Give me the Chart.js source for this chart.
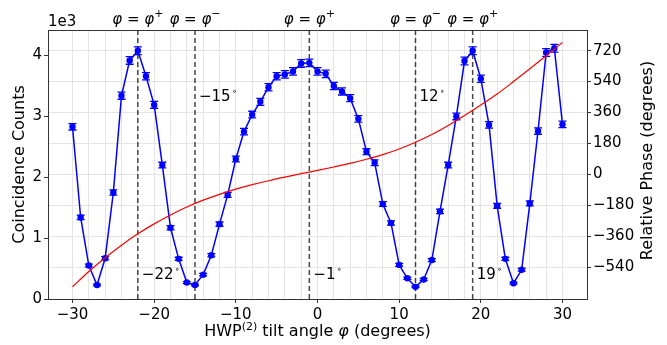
<!DOCTYPE html>
<html>
<head>
<meta charset="utf-8">
<script src="https://cdn.jsdelivr.net/npm/chart.js@4.4.0/dist/chart.umd.min.js"></script>
<style>
  html, body { margin: 0; padding: 0; background: #fff; }
  #wrap { width: 667px; height: 345px; }
</style>
</head>
<body>
<div id="wrap"><canvas id="phaseChart" width="667" height="345"></canvas></div>
<script>
// HWP(2) tilt angles (degrees), one measurement per degree
const angles = [-30, -29, -28, -27, -26, -25, -24, -23, -22, -21, -20, -19, -18, -17, -16, -15,
  -14, -13, -12, -11, -10, -9, -8, -7, -6, -5, -4, -3, -2, -1, 0, 1, 2, 3, 4, 5, 6, 7, 8, 9,
  10, 11, 12, 13, 14, 15, 16, 17, 18, 19, 20, 21, 22, 23, 24, 25, 26, 27, 28, 29, 30];

// coincidence counts
const counts = [2830, 1340, 550, 230, 670, 1750, 3340, 3920, 4080, 3660, 3190, 2200, 1170, 660, 270, 230,
  400, 720, 1230, 1710, 2300, 2750, 3030, 3240, 3480, 3660, 3690, 3740, 3870, 3880, 3740, 3700, 3500, 3410, 3300, 2960, 2420, 2240, 1560, 1250,
  560, 340, 200, 320, 640, 1440, 2200, 3000, 3910, 4080, 3620, 2860, 1530, 660, 260, 480, 1570, 2760, 4050, 4120, 2870];

// error bar half heights
const countErr = [53, 37, 23, 15, 26, 42, 58, 63, 64, 60, 56, 47, 34, 26, 16, 15,
  20, 27, 35, 41, 48, 52, 55, 57, 59, 60, 61, 61, 62, 62, 61, 61, 59, 58, 57, 54, 49, 47, 39, 35,
  24, 18, 14, 18, 25, 38, 47, 55, 63, 64, 60, 53, 39, 26, 16, 22, 40, 53, 64, 64, 54];

// relative phase curve (degrees)
const phaseAngles = [-30, -28, -26, -24, -22, -20, -18, -16, -14, -12, -10, -8, -6, -4, -2, 0,
  2, 4, 6, 8, 10, 12, 14, 16, 18, 20, 22, 24, 26, 28, 30];
const phaseValues = [-654, -565, -485, -412, -346, -288, -236, -190, -150, -116, -86, -60, -37, -16, 4, 23,
  43, 64, 88, 115, 148, 187, 232, 285, 343, 404, 468, 540, 614, 690, 768];

// special angles (dashed lines)
const markAngles = [-22, -15, -1, 12, 19];
const markSigns = ['+', '\u2212', '+', '\u2212', '+'];
const markText = ['\u221222', '\u221215', '\u22121', '12', '19'];

// tick labels
const xLabelTicks = [-30, -20, -10, 0, 10, 20, 30];
const countTicks = [0, 1000, 2000, 3000, 4000];
const phaseTicks = [-540, -360, -180, 0, 180, 360, 540, 720];

const FONT = '"DejaVu Sans", sans-serif';
const GRID = '#e4e4e4';
const AXIS = '#333';

function fmt(v) {
    return v < 0 ? '\u2212' + Math.abs(v) : String(v);
}

const xGrid = [];
for (let v = -30; v <= 30; v += 2) xGrid.push(v);

// where the in-plot degree labels sit (count axis units)
const labelHigh = 3330, labelLow = 410;

const errorBars = {
    id: 'errorBars',
    beforeDatasetsDraw(chart) {
        const ctx = chart.ctx, x = chart.scales.x, y = chart.scales.y;
        ctx.save();
        // dashed marker lines
        ctx.strokeStyle = 'rgba(0,0,0,0.72)';
        ctx.lineWidth = 1.5;
        ctx.setLineDash([5, 3]);
        markAngles.forEach(function(a) {
            const px = x.getPixelForValue(a);
            ctx.beginPath();
            ctx.moveTo(px, chart.chartArea.top);
            ctx.lineTo(px, chart.chartArea.bottom);
            ctx.stroke();
        });
        ctx.setLineDash([]);
        // error bars
        ctx.strokeStyle = 'blue';
        ctx.lineWidth = 1.3;
        angles.forEach(function(a, i) {
            const px = x.getPixelForValue(a);
            const top = y.getPixelForValue(counts[i] + countErr[i]);
            const bot = y.getPixelForValue(counts[i] - countErr[i]);
            ctx.beginPath();
            ctx.moveTo(px, top); ctx.lineTo(px, bot);
            ctx.moveTo(px - 4, top); ctx.lineTo(px + 4, top);
            ctx.moveTo(px - 4, bot); ctx.lineTo(px + 4, bot);
            ctx.stroke();
        });
        ctx.restore();
    }
};

const decorations = {
    id: 'decorations',
    afterDraw(chart) {
        const ctx = chart.ctx, area = chart.chartArea;
        const x = chart.scales.x, y = chart.scales.y;
        ctx.save();
        // top spine
        ctx.strokeStyle = AXIS;
        ctx.lineWidth = 1;
        ctx.beginPath();
        ctx.moveTo(area.left, area.top + 0.5);
        ctx.lineTo(area.right, area.top + 0.5);
        ctx.stroke();

        ctx.fillStyle = '#000';
        ctx.textBaseline = 'alphabetic';

        // phi = phi^+/- labels above the axes
        markAngles.forEach(function(a, i) {
            const px = x.getPixelForValue(a);
            ctx.font = 'italic 15px ' + FONT;
            const wPhi = ctx.measureText('\u03c6').width;
            ctx.font = '15px ' + FONT;
            const wEq = ctx.measureText(' = ').width;
            ctx.font = '11px ' + FONT;
            const wSup = ctx.measureText(markSigns[i]).width;
            let cx = px - (2 * wPhi + wEq + wSup) / 2;
            const base = 24;
            ctx.textAlign = 'left';
            ctx.font = 'italic 15px ' + FONT;
            ctx.fillText('\u03c6', cx, base); cx += wPhi;
            ctx.font = '15px ' + FONT;
            ctx.fillText(' = ', cx, base); cx += wEq;
            ctx.font = 'italic 15px ' + FONT;
            ctx.fillText('\u03c6', cx, base); cx += wPhi;
            ctx.font = '11px ' + FONT;
            ctx.fillText(markSigns[i], cx, base - 7);

            // degree label next to the line
            const high = (i === 1 || i === 3);
            const py = y.getPixelForValue(high ? labelHigh : labelLow) + 5;
            ctx.font = '15px ' + FONT;
            ctx.fillText(markText[i], px + 4, py);
            const w = ctx.measureText(markText[i]).width;
            ctx.font = '9px ' + FONT;
            ctx.fillText('\u2218', px + 4 + w + 1, py - 7);
        });

        // 1e3 offset text
        ctx.font = '15px ' + FONT;
        ctx.textAlign = 'left';
        ctx.fillText('1e3', area.left, 26);

        // x axis title with superscript
        const parts = [
            ['HWP', '16px ' + FONT, 0],
            ['(2)', '11px ' + FONT, -6],
            [' tilt angle ', '16px ' + FONT, 0],
            ['\u03c6', 'italic 16px ' + FONT, 0],
            [' (degrees)', '16px ' + FONT, 0]
        ];
        let total = 0;
        parts.forEach(function(p) { ctx.font = p[1]; total += ctx.measureText(p[0]).width; });
        let tx = (area.left + area.right) / 2 - total / 2;
        parts.forEach(function(p) {
            ctx.font = p[1];
            ctx.fillText(p[0], tx, 336 + p[2]);
            tx += ctx.measureText(p[0]).width;
        });

        // left and right axis titles
        ctx.font = '16px ' + FONT;
        ctx.textAlign = 'center';
        ctx.textBaseline = 'middle';
        ctx.save();
        ctx.translate(20, (area.top + area.bottom) / 2);
        ctx.rotate(-Math.PI / 2);
        ctx.fillText('Coincidence Counts', 0, 0);
        ctx.restore();
        ctx.save();
        ctx.translate(648, (area.top + area.bottom) / 2 - 4);
        ctx.rotate(-Math.PI / 2);
        ctx.fillText('Relative Phase (degrees)', 0, 0);
        ctx.restore();
        ctx.restore();
    }
};

document.addEventListener('DOMContentLoaded', function() {
    const ctx = document.getElementById('phaseChart').getContext('2d');
    const tickFont = { family: FONT, size: 15 };
    new Chart(ctx, {
        type: 'line',
        data: {
            datasets: [{
                label: 'Relative Phase',
                data: phaseAngles.map(function(a, i) { return { x: a, y: phaseValues[i] }; }),
                yAxisID: 'y2',
                borderColor: 'red',
                borderWidth: 1.2,
                pointRadius: 0,
                cubicInterpolationMode: 'monotone',
                fill: false,
                order: 0
            }, {
                label: 'Coincidence Counts',
                data: angles.map(function(a, i) { return { x: a, y: counts[i] }; }),
                yAxisID: 'y',
                borderColor: 'blue',
                backgroundColor: 'blue',
                borderWidth: 1.5,
                pointRadius: 3.2,
                pointBorderWidth: 0,
                tension: 0,
                fill: false,
                order: 1
            }]
        },
        options: {
            responsive: false,
            animation: false,
            devicePixelRatio: 1,
            layout: { padding: { top: 30, left: 0, right: 0, bottom: 0 } },
            plugins: {
                legend: { display: false },
                tooltip: { enabled: false }
            },
            scales: {
                x: {
                    type: 'linear',
                    min: -33,
                    max: 33,
                    afterBuildTicks: function(s) { s.ticks = xGrid.map(function(v) { return { value: v }; }); },
                    afterFit: function(s) { s.height = 46; },
                    grid: {
                        color: GRID,
                        tickLength: 4,
                        tickColor: function(c) {
                            return (c.tick && xLabelTicks.indexOf(c.tick.value) >= 0) ? AXIS : 'rgba(0,0,0,0)';
                        }
                    },
                    border: { color: AXIS, width: 1 },
                    ticks: {
                        autoSkip: false,
                        maxRotation: 0,
                        padding: 3,
                        color: '#000',
                        font: tickFont,
                        callback: function(v) { return xLabelTicks.indexOf(v) >= 0 ? fmt(v) : ''; }
                    }
                },
                y: {
                    type: 'linear',
                    position: 'left',
                    min: 0,
                    max: 4420,
                    afterBuildTicks: function(s) { s.ticks = countTicks.map(function(v) { return { value: v }; }); },
                    afterFit: function(s) { s.width = 48; },
                    grid: { drawOnChartArea: false, tickLength: 4, tickColor: AXIS },
                    border: { color: AXIS, width: 1 },
                    ticks: {
                        padding: 2,
                        color: '#000',
                        font: tickFont,
                        callback: function(v) { return String(v / 1000); }
                    }
                },
                y2: {
                    type: 'linear',
                    position: 'right',
                    min: -725,
                    max: 840,
                    afterBuildTicks: function(s) { s.ticks = phaseTicks.map(function(v) { return { value: v }; }); },
                    afterFit: function(s) { s.width = 80; },
                    grid: { color: GRID, tickLength: 4, tickColor: AXIS },
                    border: { color: AXIS, width: 1 },
                    ticks: {
                        padding: 2,
                        color: '#000',
                        font: tickFont,
                        callback: function(v) { return fmt(v); }
                    }
                }
            }
        },
        plugins: [errorBars, decorations]
    });
});
</script>
</body>
</html>
